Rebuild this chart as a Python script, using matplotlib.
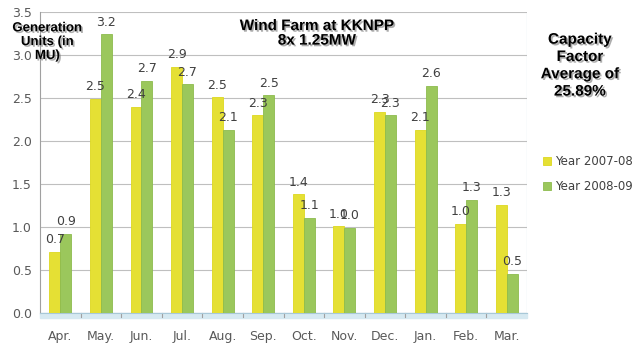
# Wind Farm at KKNPP - generacion mensual (MU)
import matplotlib
matplotlib.use('Agg')

import numpy as np
import matplotlib.pyplot as plt
import matplotlib.patheffects as pe

# ============================================================
# DATOS
# ============================================================
meses = ['Apr.', 'May.', 'Jun.', 'Jul.', 'Aug.', 'Sep.', 'Oct.', 'Nov.',
         'Dec.', 'Jan.', 'Feb.', 'Mar.']
anio_2007_08 = [0.71, 2.49, 2.40, 2.86, 2.51, 2.30, 1.38, 1.01, 2.34, 2.13, 1.04, 1.26]
anio_2008_09 = [0.92, 3.24, 2.70, 2.66, 2.13, 2.53, 1.11, 0.99, 2.30, 2.64, 1.32, 0.46]
series_nombres = ['Year 2007-08', 'Year 2008-09']
y_ticks = [0.0, 0.5, 1.0, 1.5, 2.0, 2.5, 3.0, 3.5]

AMARILLO = '#E5E034'
VERDE = '#9BC75C'
sombra = [pe.SimplePatchShadow(offset=(1.2, -1.2), shadow_rgbFace='#777777', alpha=0.6),
          pe.Normal()]

# ============================================================
# FIGURA
# ============================================================
fig = plt.figure(figsize=(6.4, 3.51), dpi=100)
ax = fig.add_axes([0.0625, 0.108, 0.761, 0.858])

x = np.arange(len(meses))
ancho = 0.27
b1 = ax.bar(x - ancho / 2, anio_2007_08, ancho, color=AMARILLO,
            edgecolor='#DDD820', linewidth=0.6, label=series_nombres[0], zorder=3)
b2 = ax.bar(x + ancho / 2, anio_2008_09, ancho, color=VERDE,
            edgecolor='#8DBB4E', linewidth=0.6, label=series_nombres[1], zorder=3)

for barras in (b1, b2):
    for r in barras:
        ax.annotate(f"{r.get_height():.1f}", (r.get_x() + r.get_width() / 2, r.get_height()),
                    xytext=(0, 4), textcoords='offset points', ha='center', va='bottom',
                    fontsize=9, color='#404040', zorder=4)

ax.set_xlim(-0.5, len(meses) - 0.5)
ax.set_ylim(0, 3.5)
ax.set_yticks(y_ticks)
ax.set_yticklabels([f"{v:.1f}" for v in y_ticks])
ax.set_xticks(x)
ax.set_xticklabels(meses)
ax.tick_params(axis='y', length=0, labelsize=9, labelcolor='#595959', pad=6)
ax.tick_params(axis='x', length=0, labelsize=9, labelcolor='#595959', pad=12)
ax.grid(axis='y', color='#BFBFBF', linewidth=0.8, zorder=0)

# marcas entre categorias y franja de piso
for xm in np.arange(0.5, len(meses) - 0.5, 1):
    ax.plot([xm, xm], [0, -0.05], color='#A0A0A0', linewidth=0.8, clip_on=False, zorder=2)
ax.axhspan(-0.06, 0, color='#D6E9F1', zorder=1, clip_on=False)
ax.set_ylim(0, 3.5)

for lado in ('top', 'right'):
    ax.spines[lado].set_visible(False)
ax.spines['left'].set_color('#A0A0A0')
ax.spines['bottom'].set_color('#A8C8D8')
ax.axvline(len(meses) - 0.5, color='#E4ECF0', linewidth=1.0, zorder=1)

# ============================================================
# TEXTOS
# ============================================================
fig.text(0.495, 0.905, 'Wind Farm at KKNPP\n8x 1.25MW', ha='center', va='center',
         fontsize=11, fontweight='bold', family='Liberation Sans', color='black',
         linespacing=1.05, path_effects=sombra)
fig.text(0.074, 0.88, 'Generation\nUnits (in\nMU)', ha='center', va='center',
         fontsize=9.5, fontweight='bold', family='Liberation Sans', color='black',
         linespacing=1.2, path_effects=sombra)
fig.text(0.906, 0.813, 'Capacity\nFactor\nAverage of\n25.89%', ha='center', va='center',
         fontsize=11, fontweight='bold', family='Liberation Sans', color='black',
         linespacing=1.3, path_effects=sombra)

fig.legend(handles=[b1, b2], loc='upper left', bbox_to_anchor=(0.845, 0.565),
           frameon=False, fontsize=8.5, handlelength=0.7, handleheight=0.7,
           handletextpad=0.3, labelspacing=1.0, labelcolor='#404040',
           borderpad=0.2, borderaxespad=0)

plt.savefig('out.png', dpi=100)
plt.close()
